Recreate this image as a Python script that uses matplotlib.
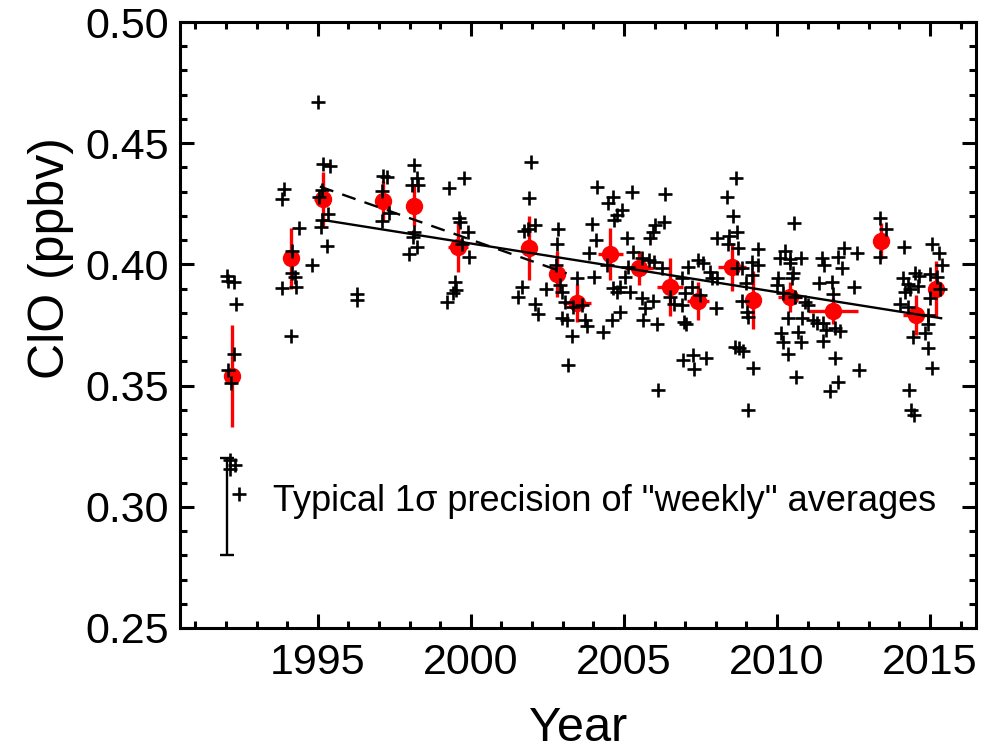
import matplotlib
matplotlib.use("Agg")
import matplotlib.pyplot as plt
from matplotlib.ticker import MultipleLocator

plt.rcParams['font.family'] = ['Liberation Sans', 'DejaVu Sans']

# weekly averages (black crosses)
weekly_year = [
    1995.00, 1995.18, 1995.40, 1993.91, 1993.82, 1995.13, 1995.04, 1995.34, 1995.13, 1995.10,
    1994.40, 1995.29, 1994.17, 1994.82, 1994.15, 1994.26, 1993.84, 1994.29, 1992.03, 1992.06,
    1992.27, 1992.33, 1994.13, 1996.29, 1996.29, 1992.26, 1992.08, 1992.17, 1997.12, 1997.11,
    1997.09, 1997.33, 1992.13, 1992.30, 1992.13, 1992.44, 1998.14, 1998.23, 1998.07, 1998.28,
    1998.15, 1998.12, 1998.23, 1997.98, 1997.25, 1999.30, 1999.78, 1999.61, 1999.65, 1999.92,
    1999.72, 1999.95, 1999.48, 1999.51, 1999.43, 1999.21, 2001.96, 2001.90, 2001.75, 2001.88,
    2002.10, 2001.66, 2001.55, 2002.10, 2002.20, 2002.45, 2002.86, 2002.80, 2002.77, 2002.91,
    2002.97, 2003.08, 2002.97, 2003.13, 2003.29, 2003.18, 2003.46, 2003.35,
    2004.11, 2004.63, 2004.49, 2005.25, 2006.34, 2004.93, 2004.76, 2004.69, 2003.97, 2004.08,
    2003.86, 2005.11, 2005.31, 2006.02, 2006.32, 2005.96, 2005.85, 2005.58, 2005.82, 2005.98,
    2006.25, 2004.44, 2005.14, 2005.04, 2004.03, 2004.65, 2004.87, 2004.78, 2005.20, 2005.58,
    2005.96, 2005.69, 2004.87, 2004.60, 2005.63, 2006.07, 2004.33, 2003.62, 2003.73, 2003.78,
    2006.51, 2006.65, 2006.89, 2006.91, 2007.08, 2007.43, 2007.59, 2007.81, 2007.87, 2008.03,
    2007.23, 2007.00, 2007.49, 2006.97, 2007.02, 2008.00, 2006.94, 2007.27, 2007.68, 2007.30,
    2006.10, 2008.65, 2008.36, 2008.57, 2008.70, 2008.43, 2008.03, 2008.41, 2008.74, 2008.68,
    2008.85, 2009.37, 2009.17, 2009.39, 2009.17, 2008.99, 2008.85, 2009.01, 2009.04, 2008.63,
    2008.76, 2008.90, 2009.23, 2009.06,
    2010.57, 2010.26, 2010.10, 2010.43, 2010.78, 2010.43, 2010.53, 2010.48, 2010.02, 2009.99,
    2010.21, 2010.59, 2010.92, 2011.00, 2010.37, 2010.83, 2011.19, 2011.30, 2011.51, 2011.60,
    2011.90, 2012.06, 2010.13, 2010.21, 2010.70, 2010.78, 2011.49, 2010.37, 2010.61, 2011.90,
    2011.98, 2011.73, 2012.68, 2011.46, 2011.55, 2012.00, 2012.20, 2012.11, 2012.60, 2011.38,
    2011.79, 2011.84, 2012.53, 2013.36, 2013.55, 2013.36, 2014.15, 2015.05, 2015.29, 2015.38,
    2014.51, 2014.64, 2015.00, 2015.22, 2014.13, 2014.27, 2014.62, 2014.35, 2014.18, 2015.32,
    2015.00, 2014.02, 2014.29, 2014.94, 2014.92, 2014.84, 2014.45, 2014.94, 2015.07, 2014.31,
    2014.37, 2014.49,
]
weekly_clo = [
    0.4670, 0.4414, 0.4406, 0.4311, 0.4269, 0.4307, 0.4277, 0.4207, 0.4183, 0.4153,
    0.4151, 0.4077, 0.4057, 0.3996, 0.3966, 0.3949, 0.3904, 0.3908, 0.3953, 0.3933,
    0.3926, 0.3835, 0.3706, 0.3877, 0.3853, 0.3629, 0.3564, 0.3509, 0.4366, 0.4303,
    0.4180, 0.4211, 0.3193, 0.3172, 0.3155, 0.3053, 0.4410, 0.4355, 0.4328, 0.4328,
    0.4135, 0.4114, 0.4073, 0.4042, 0.4362, 0.4316, 0.4358, 0.4193, 0.4176, 0.4135,
    0.4083, 0.4029, 0.3929, 0.3894, 0.3881, 0.3846, 0.4424, 0.4273, 0.4138, 0.4146,
    0.4163, 0.3908, 0.3864, 0.3835, 0.3794, 0.3897, 0.4146, 0.4083, 0.3998, 0.3915,
    0.3887, 0.3846, 0.3778, 0.3771, 0.3706, 0.3585, 0.3943, 0.3825,
    0.4318, 0.4279, 0.4252, 0.4300, 0.4289, 0.4224, 0.4204, 0.4183, 0.4165, 0.4101,
    0.4046, 0.4110, 0.4052, 0.4163, 0.4174, 0.4135, 0.4110, 0.4025, 0.4018, 0.4011,
    0.3984, 0.3998, 0.3991, 0.3949, 0.3949, 0.3901, 0.3908, 0.3887, 0.3887, 0.3860,
    0.3849, 0.3821, 0.3802, 0.3771, 0.3771, 0.3754, 0.3722, 0.3833, 0.3771, 0.3747,
    0.3867, 0.3835, 0.3833, 0.3943, 0.3991, 0.4018, 0.4005, 0.3970, 0.3945, 0.3945,
    0.3908, 0.3881, 0.3874, 0.3764, 0.3753, 0.3821, 0.3606, 0.3626, 0.3613, 0.3568,
    0.3482, 0.4358, 0.4279, 0.4201, 0.4132, 0.4118, 0.4108, 0.4083, 0.4066, 0.3986,
    0.3986, 0.4064, 0.4011, 0.3998, 0.3956, 0.3922, 0.3849, 0.3805, 0.3784, 0.3660,
    0.3654, 0.3643, 0.3571, 0.3399,
    0.4170, 0.4057, 0.4028, 0.4022, 0.4028, 0.4005, 0.3963, 0.3943, 0.3943, 0.3915,
    0.3881, 0.3867, 0.3844, 0.3833, 0.3778, 0.3778, 0.3771, 0.3757, 0.3757, 0.3729,
    0.3736, 0.3725, 0.3716, 0.3681, 0.3720, 0.3681, 0.3684, 0.3629, 0.3537, 0.3613,
    0.3516, 0.3478, 0.3563, 0.4025, 0.3998, 0.4032, 0.4069, 0.3984, 0.4046, 0.3922,
    0.3929, 0.3877, 0.3908, 0.4190, 0.4146, 0.4029, 0.4073, 0.4083, 0.4046, 0.3998,
    0.3966, 0.3953, 0.3959, 0.3949, 0.3943, 0.3918, 0.3911, 0.3899, 0.3887, 0.3899,
    0.3860, 0.3835, 0.3825, 0.3791, 0.3753, 0.3716, 0.3702, 0.3656, 0.3574, 0.3482,
    0.3399, 0.3379,
]

# binned means (red) with uncertainties
mean_year = [1992.19, 1994.12, 1995.16, 1997.14, 1998.15, 1999.59, 2001.90, 2002.80, 2003.47, 2004.55,
             2005.50, 2006.51, 2007.41, 2008.54, 2009.21, 2010.42, 2011.82, 2013.40, 2014.53, 2015.18]
mean_clo = [0.3540, 0.4025, 0.4270, 0.4262, 0.4242, 0.4073, 0.4069, 0.3959, 0.3840, 0.4042,
            0.3984, 0.3908, 0.3849, 0.3990, 0.3853, 0.3867, 0.3808, 0.4098, 0.3791, 0.3899]
mean_err = [0.0210, 0.0126, 0.0113, 0.0083, 0.0083, 0.0103, 0.0132, 0.0095, 0.0078, 0.0107,
            0.0070, 0.0120, 0.0078, 0.0099, 0.0120, 0.0062, 0.0054, 0.0074, 0.0083, 0.0116]
mean_xerr = [0.05, 0.05, 0.27, 0.05, 0.05, 0.33, 0.05, 0.05, 0.45, 0.41,
             0.46, 0.42, 0.36, 0.46, 0.05, 0.39, 0.82, 0.05, 0.42, 0.05]

# linear trends
trend_year = [1995.18, 2015.36]
trend_clo = [0.4183, 0.3778]
early_year = [1995.07, 2003.13]
early_clo = [0.4321, 0.3963]

# typical precision bar
prec_year = 1992.02
prec_clo = 0.30
prec_err = 0.02

fig = plt.figure(figsize=(9.83, 7.51), dpi=100)
ax = fig.add_axes([0.1831, 0.1638, 0.8098, 0.8069])

ax.errorbar(mean_year, mean_clo, yerr=mean_err, xerr=mean_xerr, fmt='o', color='red',
            markersize=11.5, elinewidth=2.4, capsize=0, zorder=2)
ax.plot(weekly_year, weekly_clo, '+', color='black', markersize=10, markeredgewidth=1.9, zorder=3)
ax.plot(trend_year, trend_clo, '-', color='black', linewidth=1.7, zorder=4)
ax.plot(early_year, early_clo, color='black', linewidth=1.7, dashes=(6, 4), zorder=4)
ax.errorbar([prec_year], [prec_clo], yerr=[prec_err], fmt='none', ecolor='black',
            elinewidth=1.7, capsize=5, capthick=1.7, zorder=4)
ax.text(1993.55, 0.302, 'Typical 1\u03c3 precision of "weekly" averages',
        fontsize=26, va='center', ha='left')

ax.set_xlim(1990.5, 2016.5)
ax.set_ylim(0.25, 0.50)
ax.xaxis.set_major_locator(MultipleLocator(5))
ax.xaxis.set_minor_locator(MultipleLocator(1))
ax.yaxis.set_major_locator(MultipleLocator(0.05))
ax.yaxis.set_minor_locator(MultipleLocator(0.01))
ax.yaxis.set_major_formatter(matplotlib.ticker.FormatStrFormatter('%.2f'))
ax.tick_params(which='both', direction='in', top=True, right=True, width=2.2, labelsize=31)
ax.tick_params(which='major', length=10, pad=8)
ax.tick_params(axis='x', which='major', pad=11)
ax.tick_params(which='minor', length=5)
for s in ax.spines.values():
    s.set_linewidth(2.2)

ax.set_xlabel('Year', fontsize=35)
ax.set_ylabel('ClO (ppbv)', fontsize=36)
ax.xaxis.set_label_coords(0.5, -0.128)
ax.yaxis.set_label_coords(-0.133, 0.61)

fig.savefig('out.png', dpi=100)
